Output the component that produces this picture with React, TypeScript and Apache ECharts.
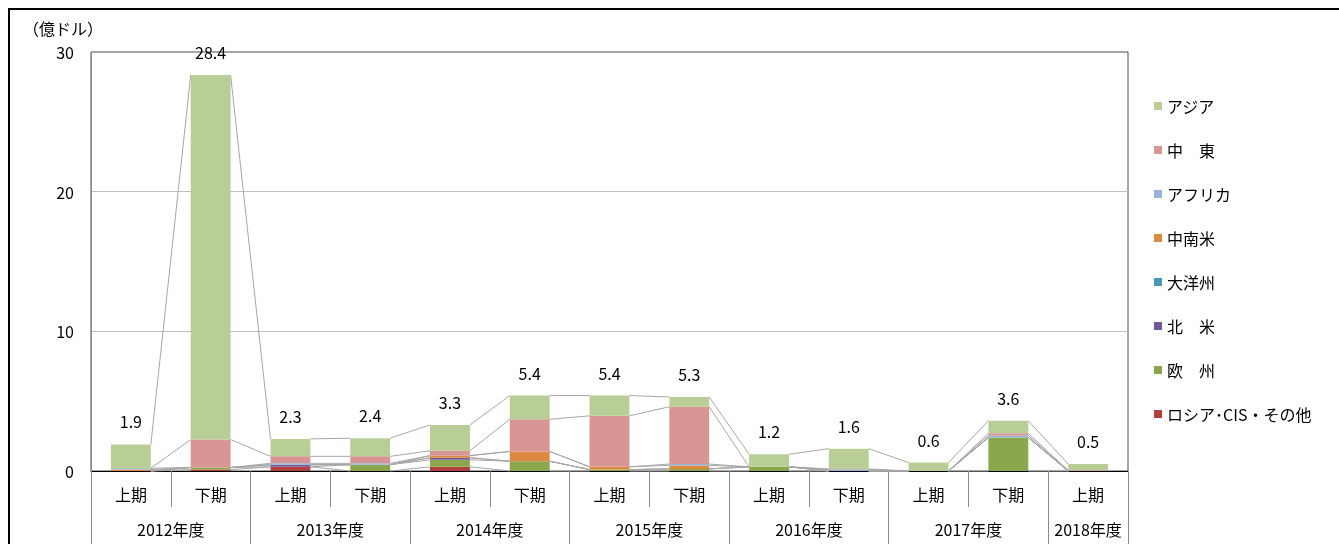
import React, { useEffect, useRef } from 'react';
import * as echarts from 'echarts';

// half-year categories (lower level) and fiscal years (upper level)
const halfLabels = ['上期', '下期', '上期', '下期', '上期', '下期', '上期', '下期', '上期', '下期', '上期', '下期', '上期'];
const fiscalYears = ['2012年度', '2013年度', '2014年度', '2015年度', '2016年度', '2017年度', '2018年度'];
const yearOfHalf = [0, 0, 1, 1, 2, 2, 3, 3, 4, 4, 5, 5, 6];

// total labels (億ドル)
const totals = [1.9, 28.4, 2.3, 2.4, 3.3, 5.4, 5.4, 5.3, 1.2, 1.6, 0.6, 3.6, 0.5];

// series values, stacked bottom -> top
const russiaCis = [0, 0.1, 0.3, 0, 0.3, 0, 0, 0, 0, 0, 0, 0, 0];
const europe = [0, 0.15, 0, 0.45, 0.5, 0.7, 0.1, 0.15, 0.3, 0, 0, 2.4, 0];
const northAmerica = [0, 0, 0.15, 0, 0.15, 0, 0, 0, 0, 0, 0, 0, 0];
const oceania = [0, 0, 0, 0, 0, 0, 0, 0, 0, 0, 0, 0, 0];
const latinAmerica = [0.1, 0, 0, 0, 0.15, 0.7, 0.2, 0.25, 0, 0, 0, 0, 0];
const africa = [0.1, 0, 0.1, 0.1, 0, 0, 0, 0.1, 0, 0.1, 0, 0.15, 0];
const middleEast = [0, 2.0, 0.5, 0.5, 0.35, 2.3, 3.65, 4.1, 0, 0.05, 0, 0.15, 0.05];
const asia = [1.7, 26.1, 1.25, 1.3, 1.85, 1.7, 1.45, 0.7, 0.9, 1.45, 0.6, 0.9, 0.45];

const seriesDefs = [
  { name: 'ロシア･CIS・その他', data: russiaCis, color: '#B2413E' },
  { name: '欧　州', data: europe, color: '#8BA74D' },
  { name: '北　米', data: northAmerica, color: '#735A96' },
  { name: '大洋州', data: oceania, color: '#4299B0' },
  { name: '中南米', data: latinAmerica, color: '#DE8941' },
  { name: 'アフリカ', data: africa, color: '#95B3D7' },
  { name: '中　東', data: middleEast, color: '#D79593' },
  { name: 'アジア', data: asia, color: '#B9CE96' },
];

export default function App() {
  const ref = useRef<HTMLDivElement>(null);

  useEffect(() => {
    if (!ref.current) return;
    const chart = echarts.init(ref.current, null, { renderer: 'svg' });
    const font = "'Noto Sans CJK JP', 'Noto Sans', sans-serif";
    const n = halfLabels.length;

    const cum = halfLabels.map((_, i) => {
      let s = 0;
      return seriesDefs.map((d) => (s += d.data[i]));
    });

    const boundaries: number[] = [0];
    for (let i = 1; i < n; i++) if (yearOfHalf[i] !== yearOfHalf[i - 1]) boundaries.push(i);
    boundaries.push(n);
    const centers = boundaries.slice(0, -1).map((b, j) => (b + boundaries[j + 1]) / 2);

    const barSeries = seriesDefs.map((d, k) => ({
      type: 'bar',
      name: d.name,
      stack: 'total',
      data: d.data,
      barWidth: '50%',
      itemStyle: { color: d.color },
      label:
        k === seriesDefs.length - 1
          ? {
              show: true,
              position: 'top',
              distance: 15,
              fontSize: 16,
              fontFamily: font,
              color: '#000',
              formatter: (p: any) => totals[p.dataIndex].toFixed(1),
            }
          : { show: false },
      emphasis: { disabled: true },
      z: 3,
    }));

    const connectorSeries = {
      type: 'custom',
      name: 'connectors',
      silent: true,
      z: 2,
      xAxisIndex: 0,
      yAxisIndex: 0,
      encode: { x: 0, y: 1 },
      data: halfLabels.slice(0, -1).map((_, i) => [i, 0]),
      renderItem: (_params: any, api: any) => {
        const i = api.value(0);
        const w = api.size([1, 0])[0] * 0.5;
        const children = seriesDefs.map((_d, k) => {
          const a = api.coord([i, cum[i][k]]);
          const b = api.coord([i + 1, cum[i + 1][k]]);
          return {
            type: 'line',
            shape: { x1: a[0] + w / 2, y1: a[1], x2: b[0] - w / 2, y2: b[1] },
            style: { stroke: '#A6A6A6', lineWidth: 1 },
          };
        });
        return { type: 'group', children };
      },
    };

    chart.setOption({
      animation: false,
      textStyle: { fontFamily: font },
      grid: {
        left: 91,
        right: 211,
        top: 52,
        bottom: 73,
        show: true,
        borderColor: '#4D4D4D',
        borderWidth: 1,
      },
      legend: {
        orient: 'vertical',
        left: 1149,
        top: 91,
        icon: 'rect',
        itemWidth: 8,
        itemHeight: 8,
        itemGap: 24,
        selectedMode: false,
        textStyle: { fontSize: 16, lineHeight: 20, color: '#000', fontFamily: font },
        data: seriesDefs.map((d) => d.name).reverse(),
      },
      xAxis: [
        {
          type: 'category',
          data: halfLabels,
          position: 'bottom',
          axisLine: { show: true, lineStyle: { color: '#000', width: 1 } },
          axisTick: { show: true, length: 36, interval: 0, lineStyle: { color: '#8C8C8C' } },
          axisLabel: { fontSize: 16, color: '#000', margin: 15, fontFamily: font, interval: 0 },
          splitLine: { show: false },
        },
        {
          type: 'value',
          min: 0,
          max: n,
          position: 'bottom',
          offset: 36,
          axisLine: { show: false },
          axisTick: {
            show: true,
            length: 40,
            customValues: boundaries,
            lineStyle: { color: '#8C8C8C' },
          },
          axisLabel: {
            show: true,
            customValues: centers,
            fontSize: 16,
            color: '#000',
            margin: 14,
            fontFamily: font,
            formatter: (v: number) => {
              const j = centers.findIndex((c) => Math.abs(c - v) < 1e-6);
              return j >= 0 ? fiscalYears[j] : '';
            },
          },
          splitLine: { show: false },
        },
      ],
      yAxis: {
        type: 'value',
        min: 0,
        max: 30,
        interval: 10,
        name: '（億ドル）',
        nameLocation: 'end',
        nameGap: 16,
        nameTextStyle: { fontSize: 16, color: '#000', align: 'right', padding: [0, -12, 0, 0], fontFamily: font },
        axisLine: { show: true, lineStyle: { color: '#8C8C8C' } },
        axisTick: { show: false },
        axisLabel: { fontSize: 16, color: '#000', margin: 17, fontFamily: font },
        splitLine: { show: true, showMinLine: false, showMaxLine: false, lineStyle: { color: '#BFBFBF' } },
      },
      graphic: [
        {
          type: 'rect',
          silent: true,
          shape: { x: 9, y: 9, width: 1400, height: 600 },
          style: { fill: 'none', stroke: '#000', lineWidth: 2 },
        },
      ],
      series: [connectorSeries, ...barSeries],
    });

    return () => chart.dispose();
  }, []);

  return <div ref={ref} style={{ position: 'fixed', left: 0, top: 0, width: 1339, height: 544 }} />;
}
